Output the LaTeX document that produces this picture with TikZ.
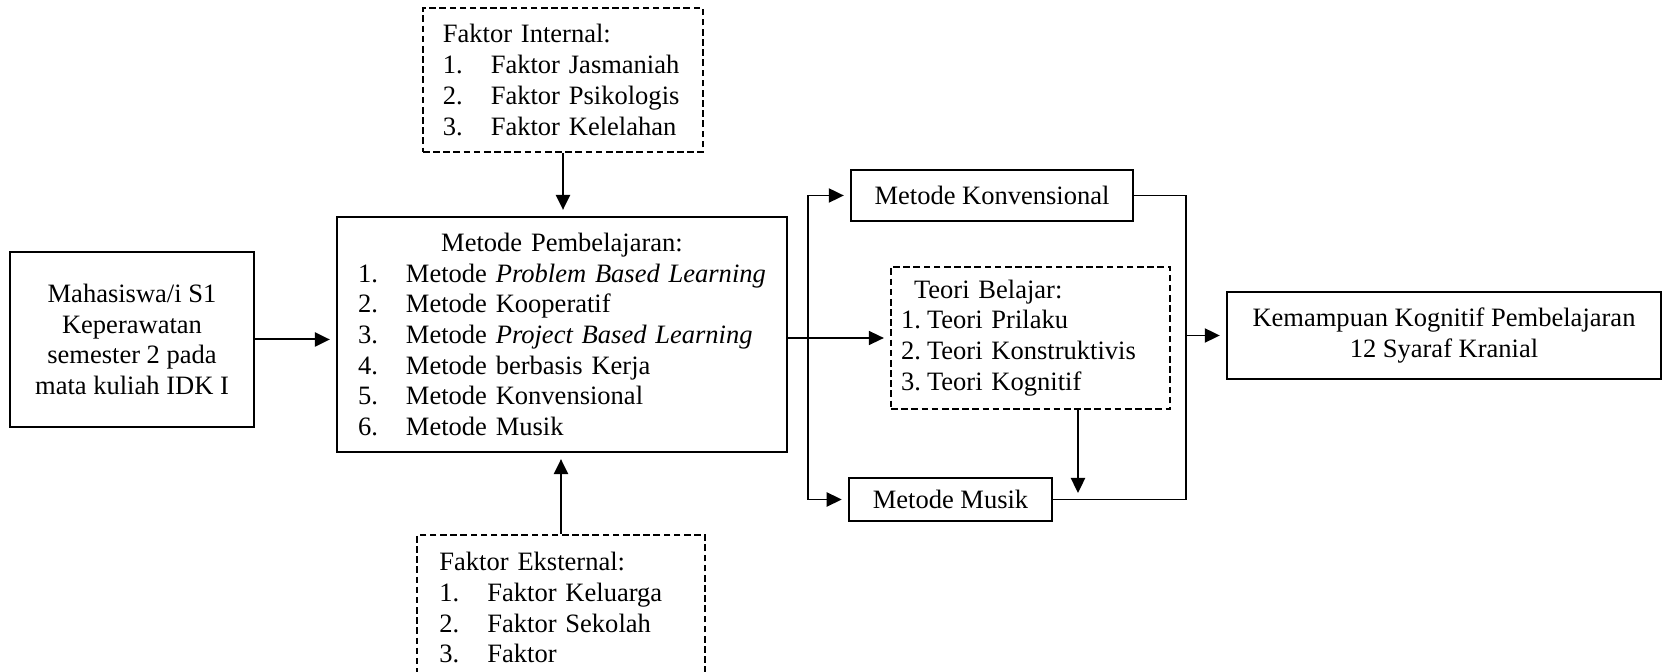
\documentclass[tikz,border=0pt]{standalone}
\usepackage{fontspec}
\setmainfont{Liberation Serif}
\usetikzlibrary{arrows.meta}
\newcommand{\nr}[2][21.7pt]{\makebox[#1][l]{#2}}
\tikzset{
    box/.style={draw, line width=0.9pt, rectangle, inner sep=0pt},
    dbox/.style={box, dash pattern=on 3pt off 1.6pt},
    thickline/.style={line width=0.9pt},
    midline/.style={line width=0.75pt},
    thinline/.style={line width=0.5pt},
    gap/.style={shorten >=2.8pt}
}
\begin{document}
\begin{tikzpicture}[x=0.4525pt, y=-0.4525pt,
        >={Triangle[length=6.8pt, width=6.4pt]},
        every node/.style={font=\fontsize{12}{13.9}\selectfont}]
        \pgfmathsetmacro{\brx}{808};
        \pgfmathsetmacro{\jx}{1186};
        \path[use as bounding box] (0,0) rectangle (1663,672);
        \clip (0,0) rectangle (1663,672);
        \node[box, minimum width=110pt, minimum height=79.2pt, align=center] (mhs) at (132,339.5)
            {Mahasiswa/i S1\\Keperawatan\\semester 2 pada\\mata kuliah IDK I};
        \node[box, inner xsep=9.5pt, text width=184.6pt, minimum height=106.3pt, align=left] (metode) at (562,334.5)
            {\makebox[\hsize]{Metode Pembelajaran:}\\
             \nr{1.}Metode \textit{Problem Based Learning}\\
             \nr{2.}Metode Kooperatif\\
             \nr{3.}Metode \textit{Project Based Learning}\\
             \nr{4.}Metode berbasis Kerja\\
             \nr{5.}Metode Konvensional\\
             \nr{6.}Metode Musik};
        \node[dbox, inner xsep=9pt, text width=108.7pt, minimum height=65.2pt, align=left] (intern) at (563,80)
            {Faktor Internal:\\
             \nr{1.}Faktor Jasmaniah\\
             \nr{2.}Faktor Psikologis\\
             \nr{3.}Faktor Kelelahan};
        \node[dbox, minimum width=130.3pt, minimum height=84pt, anchor=north] (ekstern) at (561,534) {};
        \node[inner sep=0pt, text width=110pt, align=left, anchor=north west] (eksList) at (439,552)
            {Faktor Eksternal:\\
             \nr{1.}Faktor Keluarga\\
             \nr{2.}Faktor Sekolah\\
             \nr{3.}Faktor};
        \node[box, minimum width=127.6pt, minimum height=23.1pt] (konv) at (992,195.5) {Metode Konvensional};
        \node[dbox, inner xsep=4.5pt, text width=117.2pt, minimum height=64.3pt, align=left] (teori) at (1030.5,338)
            {\hspace*{5.9pt}Teori Belajar:\\
             \nr[11.8pt]{1.}Teori Prilaku\\
             \nr[11.8pt]{2.}Teori Konstruktivis\\
             \nr[11.8pt]{3.}Teori Kognitif};
        \node[box, minimum width=91.9pt, minimum height=19.5pt] (musik) at (950.5,499.5) {Metode Musik};
        \node[box, minimum width=196.4pt, minimum height=39.4pt, align=center] (hasil) at (1444,335.5)
            {Kemampuan Kognitif Pembelajaran\\12 Syaraf Kranial};
        \coordinate (br) at (\brx,338);
        \coordinate (tip) at (1078,493);
        \coordinate (join) at (\jx,335.5);
        \draw[thickline, gap, ->] (mhs.east) -- (mhs.east -| metode.west);
        \draw[thickline, gap, ->] (intern.south) -- (intern.south |- metode.north);
        \draw[thickline, gap, ->] (ekstern.north) -- (ekstern.north |- metode.south);
        \draw[thinline, gap, ->] (metode.east |- teori.west) -- (teori.west);
        \draw[midline, gap, ->] (br) |- (konv.west);
        \draw[midline, gap, ->] (br) |- (musik.west);
        \draw[thickline, ->] (teori.south -| tip) -- (tip);
        \draw[thinline] (konv.east) -| (join) |- (musik.east);
        \draw[midline, gap, ->] (join) -- (hasil.west);
    \end{tikzpicture}
\end{document}
